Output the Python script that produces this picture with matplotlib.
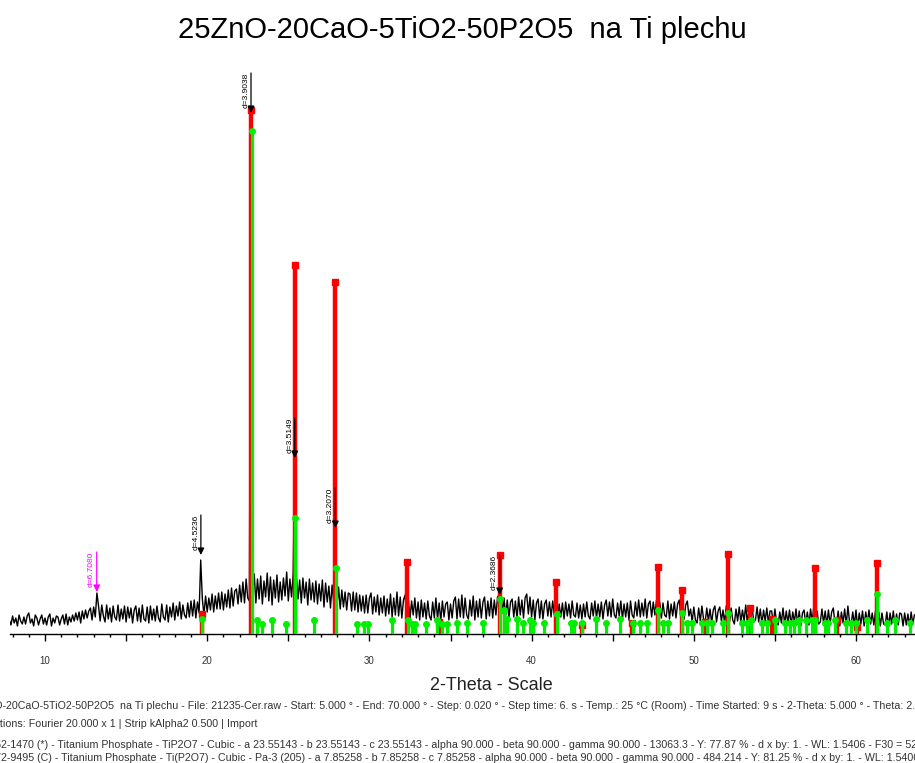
import numpy as np
import matplotlib.pyplot as plt
from matplotlib.ticker import MultipleLocator, FuncFormatter

plt.rcParams['font.family'] = ['Liberation Sans', 'DejaVu Sans']

# measured scan, resampled to 0.1 deg, one row per degree
start_2theta = 7.8
step_2theta = 0.1
counts = [
    14, 9, 18, 11, 16, 8, 19, 13, 10, 17,
    10, 18, 21, 11, 15, 8, 19, 16, 9, 15,
    19, 10, 16, 9, 17, 20, 8, 16, 11, 18,
    17, 9, 15, 19, 10, 20, 9, 17, 12, 19,
    13, 21, 14, 22, 11, 23, 15, 24, 16, 23,
    26, 14, 27, 17, 41, 28, 13, 29, 18, 12,
    29, 15, 26, 12, 28, 17, 14, 29, 13, 25,
    15, 28, 12, 27, 16, 26, 11, 24, 28, 13,
    26, 12, 29, 15, 13, 27, 11, 28, 14, 25,
    13, 28, 16, 12, 30, 17, 14, 29, 12, 27,
    17, 31, 14, 28, 18, 32, 15, 29, 19, 16,
    31, 17, 33, 18, 34, 16, 32, 21, 74, 35,
    19, 38, 22, 36, 24, 40, 22, 38, 25, 41,
    25, 42, 24, 40, 27, 44, 26, 46, 28, 43,
    45, 30, 49, 32, 52, 31, 55, 36, 33, 524,
    40, 60, 31, 55, 35, 58, 30, 53, 37, 61,
    33, 57, 29, 54, 36, 59, 32, 52, 34, 56,
    38, 62, 33, 55, 37, 60, 176, 57, 35, 54,
    31, 56, 36, 52, 29, 55, 34, 51, 32, 53,
    30, 50, 33, 54, 27, 51, 32, 48, 26, 49,
    32, 106, 28, 47, 25, 44, 27, 42, 24, 41,
    40, 23, 42, 24, 41, 22, 39, 23, 38, 21,
    39, 21, 36, 41, 20, 37, 22, 39, 19, 36,
    21, 38, 18, 35, 20, 40, 17, 36, 19, 42,
    18, 37, 16, 34, 39, 17, 35, 15, 33, 19,
    36, 16, 32, 14, 34, 17, 31, 15, 33, 18,
    14, 32, 16, 36, 15, 31, 13, 33, 17, 30,
    32, 14, 30, 16, 33, 37, 15, 35, 17, 39,
    16, 36, 19, 15, 34, 18, 38, 14, 33, 17,
    35, 16, 32, 37, 15, 33, 18, 36, 16, 34,
    19, 37, 39, 40, 21, 36, 18, 34, 16, 32,
    35, 17, 33, 15, 37, 19, 34, 16, 36, 40,
    20, 37, 17, 34, 14, 31, 35, 16, 33, 15,
    30, 34, 18, 32, 17, 33, 19, 31, 16, 30,
    17, 31, 15, 32, 18, 30, 16, 33, 19, 17,
    31, 16, 29, 15, 30, 17, 32, 18, 15, 31,
    18, 33, 16, 30, 17, 32, 15, 29, 34, 18,
    32, 17, 35, 19, 16, 31, 18, 33, 15, 30,
    17, 31, 14, 33, 19, 16, 32, 18, 34, 17,
    31, 18, 35, 16, 30, 33, 17, 32, 19, 34,
    18, 32, 16, 31, 19, 17, 33, 15, 30, 18,
    32, 16, 30, 34, 17, 31, 15, 29, 33, 18,
    25, 12, 27, 14, 11, 26, 13, 28, 15, 12,
    26, 13, 25, 11, 24, 28, 12, 23, 27, 13,
    24, 11, 28, 25, 12, 26, 14, 10, 25, 13,
    27, 12, 24, 13, 29, 11, 25, 14, 26, 12,
    14, 27, 12, 25, 10, 24, 13, 26, 11, 23,
    23, 10, 25, 12, 9, 22, 11, 26, 10, 23,
    11, 24, 9, 22, 12, 25, 10, 23, 8, 21,
    24, 10, 22, 9, 25, 12, 28, 11, 23, 10,
    12, 25, 11, 23, 9, 24, 10, 22, 26, 11,
    10, 23, 8, 22, 11, 25, 9, 28, 12, 10,
    22, 9, 24, 6, 21, 10, 23, 8, 22, 11,
    24, 10, 21, 9, 23, 11, 22, 8, 21, 10,
    9, 22, 7, 21, 10, 23, 8, 20, 9, 21,
    20, 8, 21, 9, 20, 8, 22, 10, 19, 20,
]

# reference patterns (stick positions / relative heights)
tip2o7_pos = [19.65, 22.70, 25.40, 27.90, 32.30, 34.28, 38.03, 41.49, 43.10, 46.20,
              47.77, 49.25, 50.67, 52.08, 53.44, 54.80, 57.50, 58.80, 60.09, 61.32]
tip2o7_int = [20, 524, 369, 352, 72, 12, 79, 52, 9, 11,
              67, 44, 12, 80, 26, 15, 66, 14, 7, 71]

tip2o7_c_pos = [19.67, 22.76, 23.06, 23.37, 23.99, 24.85, 25.42, 26.57, 27.93, 29.22,
                29.66, 29.90, 31.38, 32.37, 32.60, 32.80, 33.50, 34.15, 34.50, 34.80,
                35.40, 36.00, 36.99, 38.03, 38.30, 38.47, 39.08, 39.45, 39.88, 40.07,
                40.75, 41.55, 42.40, 42.60, 43.10, 44.00, 44.57, 45.43, 46.23, 46.66,
                47.10, 47.77, 48.08, 48.40, 49.30, 49.60, 49.86, 50.50, 50.80, 51.10,
                51.80, 52.10, 52.95, 53.25, 53.50, 54.20, 54.50, 55.00, 55.60, 55.90,
                56.20, 56.50, 56.90, 57.26, 57.50, 58.06, 58.25, 58.70, 59.40, 59.70,
                60.00, 60.65, 61.32, 61.90, 62.40, 63.30]
tip2o7_c_int = [15, 503, 14, 10, 14, 10, 116, 14, 66, 10,
                10, 10, 14, 14, 10, 10, 10, 14, 10, 10,
                11, 11, 11, 35, 24, 15, 15, 11, 14, 11,
                11, 20, 11, 11, 11, 15, 11, 15, 11, 11,
                11, 24, 11, 11, 21, 11, 11, 11, 11, 11,
                11, 21, 11, 11, 14, 11, 11, 14, 11, 11,
                11, 14, 14, 14, 14, 11, 11, 14, 11, 11,
                11, 14, 40, 11, 14, 11]

# d-spacing markers: position, peak top, label, colour
d_pos = [13.19, 19.61, 22.70, 25.40, 27.90, 38.03]
d_top = [42, 79, 521, 176, 106, 39]
d_text = ['d=6.7080', 'd=4.5236', 'd=3.9038', 'd=3.5149', 'd=3.2070', 'd=2.3686']
d_color = ['#FF00FF', 'black', 'black', 'black', 'black', 'black']

title = '25ZnO-20CaO-5TiO2-50P2O5  na Ti plechu'
info_lines = [
    '25ZnO-20CaO-5TiO2-50P2O5  na Ti plechu - File: 21235-Cer.raw - Start: 5.000 \u00b0 - End: 70.000 \u00b0 - Step: 0.020 \u00b0 - Step time: 6. s - Temp.: 25 \u00b0C (Room) - Time Started: 9 s - 2-Theta: 5.000 \u00b0 - Theta: 2.500 \u00b0 - Chi: 0.00 \u00b0',
    'Operations: Fourier 20.000 x 1 | Strip kAlpha2 0.500 | Import',
    '00-052-1470 (*) - Titanium Phosphate - TiP2O7 - Cubic - a 23.55143 - b 23.55143 - c 23.55143 - alpha 90.000 - beta 90.000 - gamma 90.000 - 13063.3 - Y: 77.87 % - d x by: 1. - WL: 1.5406 - F30 = 52',
    '01-072-9495 (C) - Titanium Phosphate - Ti(P2O7) - Cubic - Pa-3 (205) - a 7.85258 - b 7.85258 - c 7.85258 - alpha 90.000 - beta 90.000 - gamma 90.000 - 484.214 - Y: 81.25 % - d x by: 1. - WL: 1.5406',
]
# part of each line that runs off the left edge, and where the rest starts (px)
info_hidden = ['25ZnO', 'Opera', '00-05', '01-07']
info_start = [2, 0, 1, 1]
info_y = [706, 724, 745, 758]

W, H = 915, 763
fig = plt.figure(figsize=(W / 100, H / 100), dpi=100)
ax = fig.add_axes([10 / W, 129 / H, 905 / W, 574 / H])

two_theta = start_2theta + step_2theta * np.arange(len(counts))
ax.plot(two_theta, counts, color='black', lw=1.0, zorder=2)

red = '#FF0000'
green = '#00EE00'
ax.vlines(tip2o7_pos, 0, tip2o7_int, colors=red, lw=3.2, zorder=3)
ax.plot(tip2o7_pos, tip2o7_int, 's', color=red, ms=5, zorder=3)
ax.vlines(tip2o7_c_pos, 0, tip2o7_c_int, colors=green, lw=2.3, zorder=4)
ax.plot(tip2o7_c_pos, tip2o7_c_int, 'o', color=green, ms=5, mew=0, zorder=4)

for x, top, txt, c in zip(d_pos, d_top, d_text, d_color):
    ax.annotate('', xy=(x, top), xytext=(x, top + 40),
                arrowprops=dict(arrowstyle='-|>', color=c, lw=0.9,
                                mutation_scale=10, shrinkA=0, shrinkB=0),
                zorder=5)
    ax.annotate(txt, xy=(x, top + 40), xytext=(-1.2, 0), textcoords='offset points',
                rotation=90, ha='right', va='top', fontsize=6, color=c, zorder=5)

ax.set_xlim(7.842, 63.637)
ax.set_ylim(0, 574)
for s in ['top', 'right', 'left']:
    ax.spines[s].set_visible(False)
ax.spines['bottom'].set_linewidth(1.0)
ax.set_yticks([])
ax.xaxis.set_major_locator(MultipleLocator(5))
ax.xaxis.set_minor_locator(MultipleLocator(1))
ax.xaxis.set_major_formatter(FuncFormatter(lambda v, p: f'{v:.0f}' if round(v) % 10 == 0 else ''))
ax.tick_params(axis='x', which='major', length=5, width=1, pad=11, labelsize=7, labelcolor='#333333')
ax.tick_params(axis='x', which='minor', length=2.5, width=1)

fig.text(462 / W, 1 - 30 / H, title, ha='center', va='center', fontsize=21)
fig.text(491 / W, 1 - 686 / H, '2-Theta - Scale', ha='center', va='center', fontsize=13, color='#222222')

# footer lines are shifted so that only the tail of each is on the canvas
renderer = fig.canvas.get_renderer()
info_fs = 7.7
for s, hid, x0, y in zip(info_lines, info_hidden, info_start, info_y):
    probe = fig.text(0, 0, hid, fontsize=info_fs)
    w = probe.get_window_extent(renderer).width
    probe.remove()
    fig.text((x0 - w) / W, 1 - y / H, s, ha='left', va='center', fontsize=info_fs, color='#333333')

fig.savefig('out.png', dpi=100)
